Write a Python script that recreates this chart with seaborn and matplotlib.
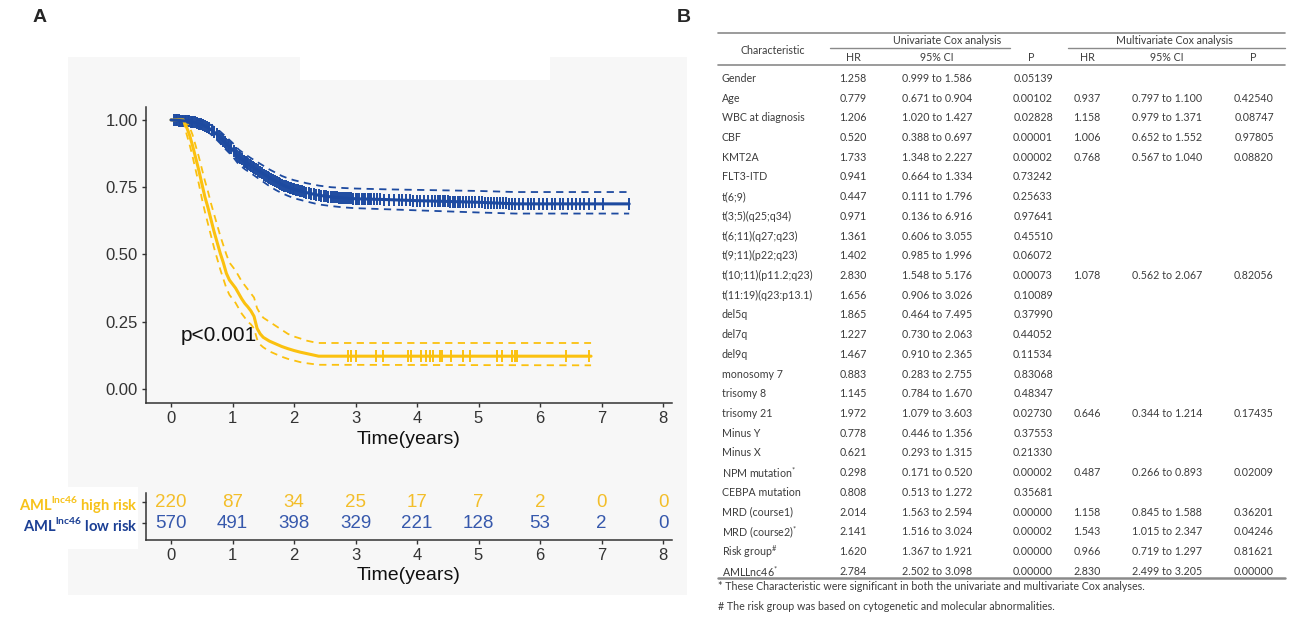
import numpy as np
import pandas as pd
import matplotlib
matplotlib.use("Agg")
import matplotlib.pyplot as plt
import seaborn as sns
from matplotlib.patches import Rectangle

# ---- survival curves ----
hi_time = [0, 0.2, 0.25, 0.3, 0.35, 0.4, 0.45, 0.5,
           0.55, 0.6, 0.65, 0.7, 0.75, 0.8, 0.85, 0.9, 0.95, 1.0, 1.05, 1.1, 1.15, 1.2,
           1.25, 1.3, 1.35, 1.4, 1.45, 1.5,
           1.6, 1.7, 1.8, 1.9, 2.0, 2.1, 2.2, 2.3, 2.4, 6.83]
hi_surv = [1.0, 1.0, 0.975, 0.945, 0.905, 0.86, 0.815, 0.765,
           0.715, 0.675, 0.63, 0.585, 0.545, 0.505, 0.47, 0.43, 0.405, 0.39, 0.375, 0.355, 0.335, 0.318,
           0.305, 0.29, 0.27, 0.225, 0.205, 0.192,
           0.178, 0.168, 0.158, 0.15, 0.143, 0.137, 0.132, 0.127, 0.122, 0.122]
hi_upper = [1.0, 1.0, 0.995, 0.975, 0.945, 0.905, 0.865, 0.82,
            0.775, 0.735, 0.69, 0.65, 0.61, 0.57, 0.535, 0.5, 0.47, 0.455, 0.44, 0.42, 0.40, 0.385,
            0.37, 0.355, 0.34, 0.30, 0.28, 0.265,
            0.25, 0.235, 0.22, 0.205, 0.195, 0.188, 0.18, 0.175, 0.171, 0.171]
hi_lower = [1.0, 1.0, 0.95, 0.91, 0.865, 0.815, 0.765, 0.71,
            0.66, 0.615, 0.57, 0.525, 0.485, 0.445, 0.41, 0.375, 0.35, 0.335, 0.32, 0.30, 0.28, 0.265,
            0.25, 0.24, 0.225, 0.185, 0.165, 0.155,
            0.14, 0.13, 0.12, 0.112, 0.106, 0.1, 0.096, 0.093, 0.09, 0.088]
hi_censor = [2.88, 2.93, 3.0, 3.33, 3.44, 3.85, 3.91, 4.07, 4.15, 4.21, 4.26, 4.37, 4.40,
             4.56, 4.75, 4.86, 5.30, 5.38, 5.54, 5.59, 5.62, 6.42, 6.80]

lo_time = [0, 0.3, 0.4, 0.5, 0.6, 0.7, 0.8, 0.9, 1.0,
           1.1, 1.2, 1.3, 1.4, 1.5, 1.6, 1.7, 1.8, 1.9, 2.0,
           2.2, 2.4, 2.6, 2.8, 3.0, 3.5, 4.0, 4.5, 5.0, 5.6, 7.45]
lo_surv = [1.0, 0.995, 0.99, 0.983, 0.972, 0.955, 0.935, 0.912, 0.89,
           0.862, 0.845, 0.83, 0.815, 0.80, 0.785, 0.772, 0.76, 0.75, 0.742,
           0.73, 0.72, 0.714, 0.71, 0.707, 0.704, 0.70, 0.697, 0.694, 0.688, 0.688]
lo_upper = [1.0, 1.0, 1.0, 0.995, 0.987, 0.974, 0.957, 0.936, 0.915,
            0.89, 0.873, 0.858, 0.844, 0.83, 0.816, 0.804, 0.792, 0.783, 0.776,
            0.765, 0.756, 0.75, 0.747, 0.745, 0.742, 0.74, 0.738, 0.736, 0.732, 0.732]
lo_lower = [1.0, 0.988, 0.98, 0.97, 0.956, 0.936, 0.913, 0.888, 0.865,
            0.835, 0.817, 0.802, 0.786, 0.77, 0.754, 0.74, 0.728, 0.718, 0.709,
            0.697, 0.686, 0.68, 0.675, 0.672, 0.668, 0.664, 0.66, 0.656, 0.652, 0.652]
lo_censor = [0.05, 0.08, 0.1, 0.13, 0.15, 0.18, 0.2, 0.23, 0.25, 0.28, 0.3, 0.32, 0.34, 0.36,
             0.39, 0.42, 0.45, 0.48, 0.52, 0.55, 0.58, 0.62, 0.66, 0.7, 0.74, 0.78, 0.82,
             0.85, 0.88, 0.9, 0.93, 0.95, 0.98, 1.02, 1.05, 1.08, 1.1, 1.12, 1.15, 1.18, 1.2,
             1.22, 1.24, 1.26, 1.28, 1.3, 1.33, 1.35, 1.38, 1.42, 1.45, 1.48, 1.52, 1.55,
             1.58, 1.6, 1.63, 1.66, 1.69, 1.72, 1.75, 1.78, 1.81, 1.84, 1.87, 1.9, 1.93, 1.95,
             1.98, 2.0, 2.03, 2.06, 2.1, 2.13, 2.17, 2.2,
             2.24, 2.28, 2.32, 2.36, 2.4, 2.44, 2.48, 2.52, 2.56, 2.6, 2.63, 2.66, 2.7, 2.73,
             2.76, 2.8, 2.83, 2.86, 2.9, 2.93, 2.96, 3.0, 3.03, 3.06, 3.1, 3.13, 3.16, 3.2,
             3.23, 3.26, 3.3, 3.35, 3.4, 3.47, 3.55, 3.62, 3.7, 3.75, 3.82, 3.88, 3.94, 4.0,
             4.05, 4.12, 4.18, 4.25, 4.3, 4.34, 4.38, 4.42, 4.46, 4.5, 4.54, 4.58, 4.62, 4.66,
             4.7, 4.75, 4.8, 4.85, 4.9, 4.95, 5.0, 5.05, 5.1, 5.15, 5.2, 5.25, 5.3, 5.35, 5.4,
             5.45, 5.5, 5.55, 5.6, 5.66, 5.72, 5.8, 5.86, 5.9, 5.98, 6.05, 6.12, 6.2, 6.25,
             6.32, 6.38, 6.45, 6.52, 6.58, 6.65, 6.72, 6.8, 6.9, 7.02, 7.45]

# ---- number at risk ----
risk_times = [0, 1, 2, 3, 4, 5, 6, 7, 8]
risk_high = [220, 87, 34, 25, 17, 7, 2, 0, 0]
risk_low = [570, 491, 398, 329, 221, 128, 53, 2, 0]

# ---- Cox table ----
characteristics = ["Gender", "Age", "WBC at diagnosis", "CBF", "KMT2A", "FLT3-ITD", "t(6;9)",
                   "t(3;5)(q25;q34)", "t(6;11)(q27;q23)", "t(9;11)(p22;q23)", "t(10;11)(p11.2;q23)",
                   "t(11:19)(q23:p13.1)", "del5q", "del7q", "del9q", "monosomy 7", "trisomy 8",
                   "trisomy 21", "Minus Y", "Minus X", "NPM mutation", "CEBPA mutation",
                   "MRD (course1)", "MRD (course2)", "Risk group", "AMLLnc46"]
char_marks = [""] * 20 + ["*", "", "", "*", "#", "*"]
uni_hr = ["1.258", "0.779", "1.206", "0.520", "1.733", "0.941", "0.447", "0.971", "1.361", "1.402",
          "2.830", "1.656", "1.865", "1.227", "1.467", "0.883", "1.145", "1.972", "0.778", "0.621",
          "0.298", "0.808", "2.014", "2.141", "1.620", "2.784"]
uni_ci = ["0.999 to 1.586", "0.671 to 0.904", "1.020 to 1.427", "0.388 to 0.697", "1.348 to 2.227",
          "0.664 to 1.334", "0.111 to 1.796", "0.136 to 6.916", "0.606 to 3.055", "0.985 to 1.996",
          "1.548 to 5.176", "0.906 to 3.026", "0.464 to 7.495", "0.730 to 2.063", "0.910 to 2.365",
          "0.283 to 2.755", "0.784 to 1.670", "1.079 to 3.603", "0.446 to 1.356", "0.293 to 1.315",
          "0.171 to 0.520", "0.513 to 1.272", "1.563 to 2.594", "1.516 to 3.024", "1.367 to 1.921",
          "2.502 to 3.098"]
uni_p = ["0.05139", "0.00102", "0.02828", "0.00001", "0.00002", "0.73242", "0.25633", "0.97641",
         "0.45510", "0.06072", "0.00073", "0.10089", "0.37990", "0.44052", "0.11534", "0.83068",
         "0.48347", "0.02730", "0.37553", "0.21330", "0.00002", "0.35681", "0.00000", "0.00002",
         "0.00000", "0.00000"]
multi_hr = ["", "0.937", "1.158", "1.006", "0.768", "", "", "", "", "", "1.078", "", "", "", "",
            "", "", "0.646", "", "", "0.487", "", "1.158", "1.543", "0.966", "2.830"]
multi_ci = ["", "0.797 to 1.100", "0.979 to 1.371", "0.652 to 1.552", "0.567 to 1.040", "", "", "",
            "", "", "0.562 to 2.067", "", "", "", "", "", "", "0.344 to 1.214", "", "",
            "0.266 to 0.893", "", "0.845 to 1.588", "1.015 to 2.347", "0.719 to 1.297",
            "2.499 to 3.205"]
multi_p = ["", "0.42540", "0.08747", "0.97805", "0.08820", "", "", "", "", "", "0.82056", "", "",
           "", "", "", "", "0.17435", "", "", "0.02009", "", "0.36201", "0.04246", "0.81621",
           "0.00000"]

YEL = "#FBC10F"
BLU = "#1D4AA0"
YEL_TXT = "#F3BE2A"
BLU_TXT = "#3658AC"

sns.set_theme(style="white")
plt.rcParams['font.family'] = ['Liberation Sans', 'DejaVu Sans']

W, H = 1293, 618
fig = plt.figure(figsize=(12.93, 6.18), dpi=100)


def px_axes(x0, y0, x1, y1):
    return fig.add_axes([x0 / W, 1 - y1 / H, (x1 - x0) / W, (y1 - y0) / H])


# background / table layer in pixel coordinates
bg = fig.add_axes([0, 0, 1, 1], zorder=0)
bg.set_xlim(0, W)
bg.set_ylim(H, 0)
bg.axis("off")
bg.add_patch(Rectangle((68, 57), 619, 538, color="#f7f7f7", lw=0))
bg.add_patch(Rectangle((300, 57), 250, 23, color="white", lw=0))
bg.add_patch(Rectangle((5, 487), 133, 62, color="white", lw=0))
bg.text(40, 18, "A", fontsize=14, fontweight="bold", ha="center", va="center")
bg.text(684, 18, "B", fontsize=14, fontweight="bold", ha="center", va="center")

# ---- KM plot ----
ax = px_axes(146, 107, 672, 403)
ax.set_zorder(2)
ax.patch.set_alpha(0)

km = pd.concat([
    pd.DataFrame({"time": hi_time, "surv": hi_surv, "upper": hi_upper, "lower": hi_lower, "group": "high"}),
    pd.DataFrame({"time": lo_time, "surv": lo_surv, "upper": lo_upper, "lower": lo_lower, "group": "low"}),
])
pal = {"high": YEL, "low": BLU}
for col in ["upper", "lower"]:
    sns.lineplot(data=km, x="time", y=col, hue="group", palette=pal,
                 estimator=None, sort=False, linewidth=1.3, linestyle=(0, (4, 3)), legend=False, ax=ax)
sns.lineplot(data=km, x="time", y="surv", hue="group", palette=pal,
             estimator=None, sort=False, linewidth=2.2, legend=False, ax=ax)


def surv_at(times, surv, t):
    return np.interp(np.asarray(t), np.asarray(times), np.asarray(surv))


cens = pd.concat([
    pd.DataFrame({"time": hi_censor, "surv": surv_at(hi_time, hi_surv, hi_censor), "group": "high"}),
    pd.DataFrame({"time": lo_censor, "surv": surv_at(lo_time, lo_surv, lo_censor), "group": "low"}),
])
sns.scatterplot(data=cens, x="time", y="surv", hue="group", palette=pal, marker="|", s=75,
                linewidth=1.4, legend=False, ax=ax)

ax.text(0.15, 0.2, "p<0.001", fontsize=15, va="center", ha="left", color="#111111")

ax.set_xlim(-0.4065, 8.146)
ax.set_ylim(-0.052, 1.048)
ax.set_xticks(risk_times)
ax.set_yticks([0, 0.25, 0.5, 0.75, 1.0])
ax.set_yticklabels(["0.00", "0.25", "0.50", "0.75", "1.00"])
ax.set_xlabel("Time(years)", fontsize=14, labelpad=3, color="#111111")
ax.set_ylabel("")
sns.despine(ax=ax)
for side in ["left", "bottom"]:
    ax.spines[side].set_color("#333333")
    ax.spines[side].set_linewidth(1.1)
ax.tick_params(axis="both", length=3, width=1.0, color="#333333", labelsize=12,
               labelcolor="#333333", pad=3, left=True, bottom=True)

# ---- risk table ----
rt = px_axes(146, 493, 672, 540)
rt.set_zorder(2)
rt.patch.set_alpha(0)
for t, nh, nl in zip(risk_times, risk_high, risk_low):
    rt.text(t, 2, str(nh), ha="center", va="center", fontsize=13.5, color=YEL_TXT)
    rt.text(t, 1, str(nl), ha="center", va="center", fontsize=13.5, color=BLU_TXT)
rt.set_xlim(-0.4065, 8.146)
rt.set_ylim(0.19, 2.43)
rt.set_xticks(risk_times)
rt.set_yticks([1, 2])
rt.set_yticklabels([r"AML$^{\mathregular{lnc46}}$ low risk", r"AML$^{\mathregular{lnc46}}$ high risk"],
                   fontfamily=["Lato", "DejaVu Sans"], fontweight="bold", fontsize=10.6)
rt.get_yticklabels()[0].set_color("#1B3F94")
rt.get_yticklabels()[1].set_color("#F7C21A")
rt.set_xlabel("Time(years)", fontsize=14, labelpad=3, color="#111111")
sns.despine(ax=rt)
for side in ["left", "bottom"]:
    rt.spines[side].set_color("#333333")
    rt.spines[side].set_linewidth(1.1)
rt.tick_params(axis="both", length=3, width=1.0, color="#333333", pad=3, left=True, bottom=True)
rt.tick_params(axis="x", labelsize=12, labelcolor="#333333")

# ---- table B ----
TF = ["Lato", "DejaVu Sans"]
TC = "#3c3c3c"
FS = 7.7
row_y0, row_dy = 78.3, 19.72
x_name, x_hr, x_ci, x_p = 722, 853, 937, 1033
x_mhr, x_mci, x_mp = 1087, 1167, 1254
x_left, x_right = 718, 1285

bg.plot([x_left, x_right], [33.3, 33.3], color="#8a8a8a", lw=1.2)
bg.plot([830, 1010], [48.3, 48.3], color="#8a8a8a", lw=1.0)
bg.plot([1068, x_right], [48.3, 48.3], color="#8a8a8a", lw=1.0)
bg.plot([x_left, x_right], [65, 65], color="#8a8a8a", lw=1.2)
bg.plot([x_left, x_right], [578, 578], color="#8a8a8a", lw=1.8)

hdr = dict(fontsize=FS, color=TC, family=TF, va="center", ha="center")
bg.text(773, 50, "Characteristic", **hdr)
bg.text(947, 40.5, "Univariate Cox analysis", **hdr)
bg.text(1174, 40.5, "Multivariate Cox analysis", **hdr)
for x, s in [(x_hr, "HR"), (x_ci, "95% CI"), (1031, "P"), (x_mhr, "HR"), (x_mci, "95% CI"), (1253, "P")]:
    bg.text(x, 57.3, s, **hdr)

for i, name in enumerate(characteristics):
    y = row_y0 + i * row_dy
    m = char_marks[i]
    label = name if m == "" else name + r"$^{\mathregular{" + m.replace("#", r"\#") + "}}$"
    bg.text(x_name, y, label, fontsize=FS, color=TC, family=TF, va="center", ha="left")
    for x, col in [(x_hr, uni_hr), (x_ci, uni_ci), (x_p, uni_p),
                   (x_mhr, multi_hr), (x_mci, multi_ci), (x_mp, multi_p)]:
        if col[i]:
            bg.text(x, y, col[i], fontsize=FS, color=TC, family=TF, va="center", ha="center")

bg.text(x_left, 586, "* These Characteristic were significant in both the univariate and multivariate Cox analyses.",
        fontsize=FS, color=TC, family=TF, va="center", ha="left")
bg.text(x_left, 607, "# The risk group was based on cytogenetic and molecular abnormalities.",
        fontsize=FS, color=TC, family=TF, va="center", ha="left")

fig.savefig("out.png", dpi=100)
